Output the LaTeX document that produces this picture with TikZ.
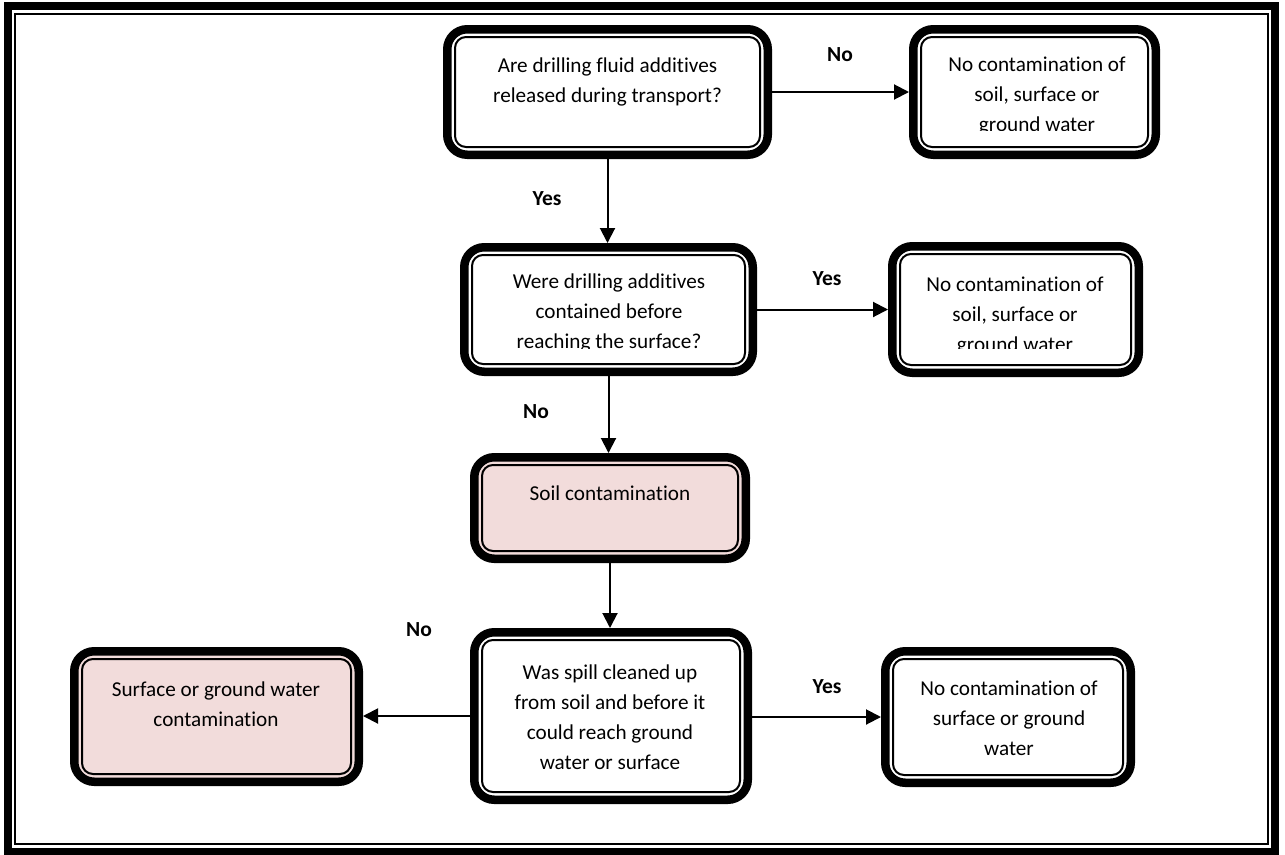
\documentclass[tikz,border=0pt]{standalone}
\usepackage{fontspec}
\setmainfont{Carlito}[Ligatures=NoCommon]
\usetikzlibrary{arrows.meta}
\definecolor{pinkfill}{HTML}{F2DCDB}
\begin{document}
\begin{tikzpicture}[x=1pt,y=-1pt,
  box/.style={draw=black, line width=8.5pt, rounded corners=20pt, inner sep=0pt, outer sep=4.25pt},
  innerline/.style={draw=black, line width=2pt, rounded corners=11pt},
  txt/.style={align=center, inner sep=0pt, font=\fontsize{21.2}{30}\selectfont},
  lab/.style={inner sep=0pt, font=\fontsize{21.5}{24}\selectfont\bfseries},
  arr/.style={line width=2pt, -{Triangle[length=15pt,width=15pt]}}]
\useasboundingbox (0,0) rectangle (1285,854);
% outer frame
\draw[line width=8pt] (8,6) rectangle (1275,852);
\draw[line width=2pt] (15.3,13.5) rectangle (1268,844);
% boxes
\node[box, fill=white, minimum width=320.5pt, minimum height=125.5pt] (b1) at (607.5,92) {};
\node[box, fill=white, minimum width=242.5pt, minimum height=125.5pt] (b2) at (1034.5,92) {};
\node[box, fill=white, minimum width=288.5pt, minimum height=124.5pt] (b3) at (608.5,309.5) {};
\node[box, fill=white, minimum width=246.5pt, minimum height=126.5pt] (b4) at (1015.5,309.5) {};
\node[box, fill=pinkfill, minimum width=271.5pt, minimum height=101.5pt] (b5) at (610,508) {};
\node[box, fill=white, minimum width=273.5pt, minimum height=167.5pt] (b6) at (611,716) {};
\node[box, fill=pinkfill, minimum width=284.5pt, minimum height=130.5pt] (b7) at (216.5,716.5) {};
\node[box, fill=white, minimum width=245.5pt, minimum height=131.5pt] (b8) at (1008,717) {};
\foreach \b in {b1,b2,b3,b4,b5,b6,b7,b8}{
  \draw[innerline] ([shift={(12,12)}]\b.north west) rectangle ([shift={(-12,-12)}]\b.south east);
}
% texts
\node[txt] (t1) at (607.5,82) {Are drilling fluid additives\\released during transport?};
\begin{scope}
  \clip (900,30) rectangle (1170,130);
  \node[txt] (t2) at (1037,96) {No contamination of\\soil, surface or\\ground water};
\end{scope}
\begin{scope}
  \clip (450,250) rectangle (770,348);
  \node[txt] (t3) at (609,313) {Were drilling additives\\contained before\\reaching the surface?};
\end{scope}
\begin{scope}
  \clip (880,250) rectangle (1150,348);
  \node[txt] (t4) at (1015,316) {No contamination of\\soil, surface or\\ground water};
\end{scope}
\node[txt] (t5) at (610,493) {Soil contamination};
\node[txt] (t6) at (610,717) {Was spill cleaned up\\from soil and before it\\could reach ground\\water or surface};
\node[txt] (t7) at (216,704) {Surface or ground water\\contamination};
\node[txt] (t8) at (1009,718) {No contamination of\\surface or ground\\water};
% connectors
\draw[arr] (b1.east) -- (b2.west);
\draw[arr] (b1.south) -- (b1.south |- b3.north);
\draw[arr] (b3.east) -- (b3.east -| b4.west);
\draw[arr] (b3.south) -- (b3.south |- b5.north);
\draw[arr] (b5.south) -- (b5.south |- b6.north);
\draw[arr] (b6.west) -- (b6.west -| b7.east);
\draw[arr] ([shift={(0,1)}]b6.east) -- ([shift={(0,1)}]b6.east -| b8.west);
% labels
\node[lab] (l1) at (840,55) {No};
\node[lab] (l2) at (547,199) {Yes};
\node[lab] (l3) at (827,279) {Yes};
\node[lab] (l4) at (536,412) {No};
\node[lab] (l5) at (419,630) {No};
\node[lab] (l6) at (827,687) {Yes};
\end{tikzpicture}
\end{document}
